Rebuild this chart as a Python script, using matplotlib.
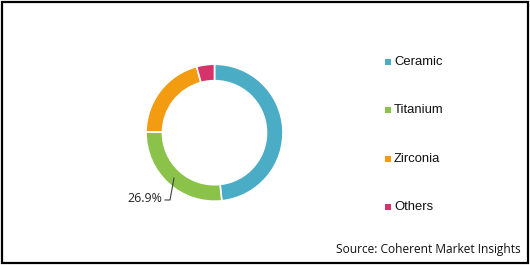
import matplotlib.pyplot as plt
from matplotlib.patches import Rectangle

materials = ['Ceramic', 'Titanium', 'Zirconia', 'Others']
shares = [48.3, 26.9, 20.6, 4.2]
colors = ['#4BACC6', '#8BC34A', '#F39C12', '#D6336C']
shown_label = '26.9%'
source = 'Source: Coherent Market Insights'

W, H = 530, 265
fig = plt.figure(figsize=(W / 100, H / 100), dpi=100)
ax = fig.add_axes([0, 0, 1, 1])
ax.set_xlim(0, W)
ax.set_ylim(0, H)
ax.set_aspect('equal')
ax.axis('off')

# outer frame
ax.add_patch(Rectangle((2, 2), W - 4, H - 4, fill=False, edgecolor='black', lw=1.6))

cx, cy = 214.5, H - 132.7
wedges, _ = ax.pie(shares, colors=colors, startangle=90, counterclock=False,
                   center=(cx, cy), radius=68.5,
                   wedgeprops=dict(width=16.5, edgecolor='white', linewidth=1.2))
ax.set_xlim(0, W)
ax.set_ylim(0, H)

# label for titanium slice with leader line
ax.plot([165, 170, 174], [H - 200, H - 200, H - 178], color='#404040', lw=0.8)
ax.text(162, H - 199, shown_label, ha='right', va='center',
        fontsize=8.9, family='Open Sans', color='#222222')

# legend
for i, (name, col) in enumerate(zip(materials, colors)):
    y = H - (62 + 48.3 * i)
    ax.add_patch(Rectangle((385, y - 3), 6, 6, color=col, lw=0))
    ax.text(394, y, name, ha='left', va='center', fontsize=9.4,
            family='Liberation Sans', color='#111111')

ax.text(521, H - 250, source, ha='right', va='center', fontsize=8.6,
        family='Open Sans', color='#111111')

fig.savefig('out.png', dpi=100)
